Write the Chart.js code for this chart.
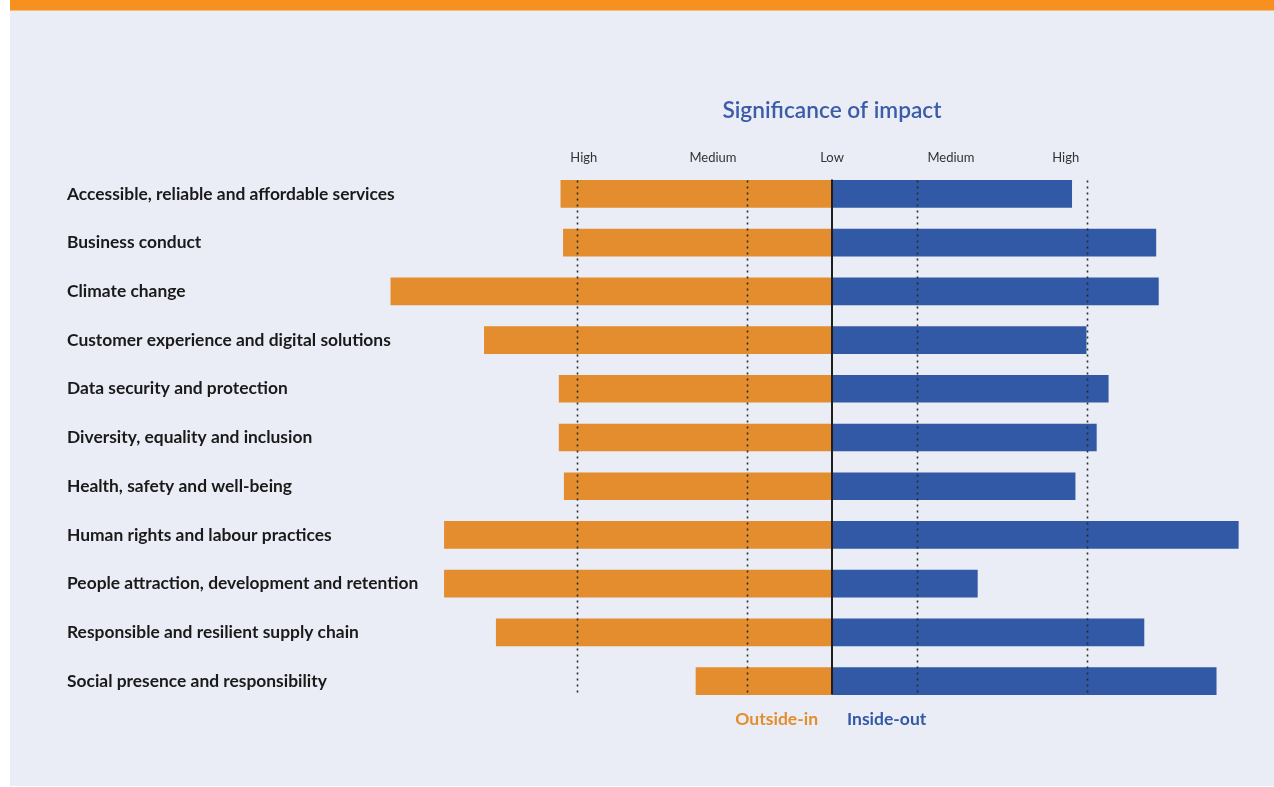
<!DOCTYPE html>
<html>
<head>
<meta charset="utf-8">
<script src="https://cdn.jsdelivr.net/npm/chart.js@4"></script>
<style>
  html, body { margin: 0; padding: 0; background: #ffffff; }
  #wrap { width: 1274px; height: 787px; }
</style>
</head>
<body>
<div id="wrap"><canvas id="impactChart"></canvas></div>
<script>
// topics, top to bottom
const topics = [
    'Accessible, reliable and affordable services',
    'Business conduct',
    'Climate change',
    'Customer experience and digital solutions',
    'Data security and protection',
    'Diversity, equality and inclusion',
    'Health, safety and well-being',
    'Human rights and labour practices',
    'People attraction, development and retention',
    'Responsible and resilient supply chain',
    'Social presence and responsibility'
];
// significance (1 unit = Low -> Medium)
const outsideIn = [3.19, 3.16, 5.19, 4.09, 3.21, 3.21, 3.15, 4.56, 4.56, 3.95, 1.60];
const insideOut = [2.82, 3.81, 3.84, 2.99, 3.25, 3.11, 2.86, 4.78, 1.71, 3.67, 4.52];

// header tick labels and where they sit on the scale
const tickLabels = ['High', 'Medium', 'Low', 'Medium', 'High'];
const tickPos = [-2.92, -1.4, 0, 1.4, 2.75];
// dotted reference lines (Medium / High on both sides)
const refLines = [-3, -1, 1, 3];

const ORANGE = '#e38d2f';
const BLUE = '#3259a6';
const TITLE_BLUE = '#3b5ca9';

const pagePlugin = {
    id: 'page',
    beforeDraw(chart) {
        const ctx = chart.ctx;
        ctx.save();
        ctx.fillStyle = '#ffffff';
        ctx.fillRect(0, 0, chart.width, chart.height);
        ctx.fillStyle = '#eaedf5';
        ctx.fillRect(10, 10, chart.width - 10, chart.height - 11);
        ctx.fillStyle = '#f7901e';
        ctx.fillRect(10, 0, chart.width - 10, 10.5);
        ctx.restore();
    },
    afterDatasetsDraw(chart) {
        const ctx = chart.ctx;
        const x = chart.scales.x;
        const bars = chart.getDatasetMeta(0).data;
        const first = bars[0], last = bars[bars.length - 1];
        const top = first.y - first.height / 2;
        const bottom = last.y + last.height / 2;

        ctx.save();
        // dotted lines
        ctx.strokeStyle = '#2b2b2b';
        ctx.lineWidth = 1.6;
        ctx.setLineDash([2, 4]);
        refLines.forEach(v => {
            const px = Math.round(x.getPixelForValue(v)) + 0.5;
            ctx.beginPath();
            ctx.moveTo(px, top);
            ctx.lineTo(px, bottom);
            ctx.stroke();
        });
        // centre line (Low)
        ctx.setLineDash([]);
        ctx.strokeStyle = '#1e1e1e';
        ctx.lineWidth = 2;
        const cx = x.getPixelForValue(0);
        ctx.beginPath();
        ctx.moveTo(cx, top - 1);
        ctx.lineTo(cx, bottom);
        ctx.stroke();

        // title and side names
        ctx.textBaseline = 'middle';
        ctx.textAlign = 'center';
        ctx.fillStyle = TITLE_BLUE;
        ctx.font = '600 22.7px Lato';
        ctx.fillText('Significance of impact', cx, 111);

        ctx.font = 'bold 17.5px Lato';
        ctx.textAlign = 'right';
        ctx.fillStyle = ORANGE;
        ctx.fillText('Outside-in', cx - 14, 719);
        ctx.textAlign = 'left';
        ctx.fillStyle = BLUE;
        ctx.fillText('Inside-out', cx + 15, 719);
        ctx.restore();
    }
};

window.onload = function () {
    const ctx = document.getElementById('impactChart').getContext('2d');
    new Chart(ctx, {
        type: 'bar',
        data: {
            labels: topics,
            datasets: [{
                label: 'Outside-in',
                data: outsideIn.map(v => -v),
                backgroundColor: ORANGE,
                borderWidth: 0,
                barThickness: 27
            }, {
                label: 'Inside-out',
                data: insideOut,
                backgroundColor: BLUE,
                borderWidth: 0,
                barThickness: 27
            }]
        },
        options: {
            indexAxis: 'y',
            responsive: true,
            maintainAspectRatio: false,
            animation: false,
            layout: {
                padding: { left: 67, right: 17, top: 139.6, bottom: 81.6 }
            },
            scales: {
                x: {
                    position: 'top',
                    stacked: true,
                    min: -9,
                    max: 5,
                    grid: { display: false, drawTicks: false },
                    border: { display: false },
                    afterBuildTicks: (scale) => {
                        scale.ticks = tickPos.map(v => ({ value: v }));
                    },
                    afterFit: (scale) => { scale.height = 30; },
                    ticks: {
                        autoSkip: false,
                        maxRotation: 0,
                        padding: 4,
                        color: '#333333',
                        font: { family: 'Lato', size: 13 },
                        callback: (v, i) => tickLabels[i]
                    }
                },
                y: {
                    stacked: true,
                    grid: { display: false, drawTicks: false },
                    border: { display: false },
                    afterFit: (scale) => { scale.width = 0; },
                    ticks: {
                        mirror: true,
                        crossAlign: 'near',
                        padding: 0,
                        color: '#1a1a1a',
                        font: { family: 'Lato', size: 17.4, weight: 'bold' }
                    }
                }
            },
            plugins: {
                legend: { display: false },
                tooltip: { enabled: false },
                title: { display: false }
            }
        },
        plugins: [pagePlugin]
    });
}
</script>
</body>
</html>
